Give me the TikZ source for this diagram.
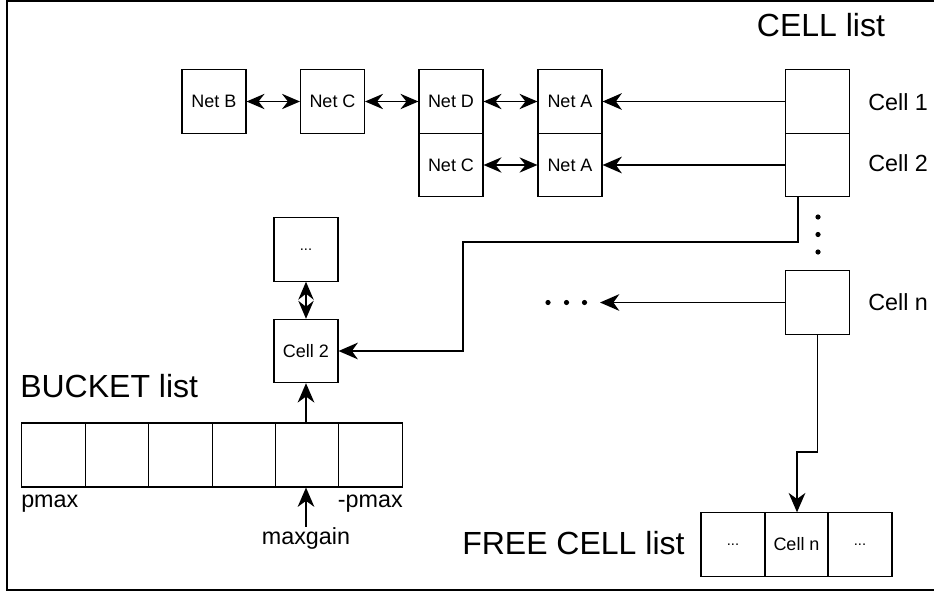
\documentclass[tikz,border=0pt]{standalone}
\usepackage{fontspec}
\setmainfont{Liberation Sans}
\usetikzlibrary{arrows.meta,calc}
\begin{document}
\begin{tikzpicture}[x=0.75pt,y=-0.75pt,
  box/.style={draw,line width=0.8pt,minimum width=48pt,minimum height=47.5pt,inner sep=0pt,font=\fontsize{13.5}{16}\selectfont},
  smallbox/.style={box,font=\fontsize{13.5}{16}\selectfont},
  arr/.style={line width=1.2pt,-{Stealth[length=14.5pt,width=12.5pt,inset=4.5pt]}},
  darr/.style={line width=1.2pt,{Stealth[length=13.5pt,width=11.5pt,inset=4.5pt]}-{Stealth[length=13.5pt,width=11.5pt,inset=4.5pt]}},
  big/.style={inner sep=0pt,font=\fontsize{24}{28}\selectfont},
  mid/.style={inner sep=0pt,font=\fontsize{17.5}{20}\selectfont},
  dotsfont/.style={font=\fontsize{11}{13}\selectfont}
]
\useasboundingbox (0,0) rectangle (934,592);
\draw[line width=1.3pt] (934,1) -- (7,1) -- (7,590) -- (934,590);

\node[box] (netB) at (214,101.5) {Net B};
\node[box] (netC) at (332.5,101.5) {Net C};
\node[box] (netD) at (451,101.5) {Net D};
\node[box] (netC2) at (451,165) {Net C};
\node[box] (netA1) at (570,101.5) {Net A};
\node[box] (netA2) at (570,165) {Net A};

\node[box] (cell1) at (817.5,101.5) {};
\node[box] (cell2) at (817.5,165) {};
\node[box] (celln) at (817.5,302.5) {};
\node[big,anchor=base] (celllist) at (821,37) {CELL list};
\node[mid,anchor=base west] (l1) at (868,110) {Cell 1};
\node[mid,anchor=base west] (l2) at (868,171) {Cell 2};
\node[mid,anchor=base west] (ln) at (868,310) {Cell n};

\draw[darr] (netB.east) -- (netC.west);
\draw[darr] (netC.east) -- (netD.west);
\draw[darr] (netD.east) -- (netA1.west);
\draw[darr] (netC2.east) -- (netA2.west);
\draw[arr] (cell1.west) -- (netA1.east);
\draw[arr] (cell2.west) -- (netA2.east);

\foreach \yy in {217,234.5,252} \fill (818,\yy) circle (2.6);
\coordinate (hdend) at (600,302.5);
\foreach \xx in {548,566.5,584.5} \fill (\xx,302.5) circle (2.6);
\draw[arr] (celln.west) -- (hdend);

\node[box,dotsfont] (dbox) at (306,249.5) {...};
\node[smallbox] (bcell) at (306,351) {Cell 2};
\draw[darr] (dbox.south) -- (bcell.north);
\draw[arr] (cell2.south -| 798,0) -- (798,242) -- (463,242) -- (463,351) -- (bcell.east);

\node[big,anchor=base west] (bucketlbl) at (20,397) {BUCKET list};
\foreach \i/\xx in {1/53.5,2/117,3/180.5,4/244,5/307,6/370.5}
  \node[box,minimum width=47.5pt,minimum height=48pt] (b\i) at (\xx,455) {};
\node[mid,anchor=base west] (pmax) at (21,507) {pmax};
\node[mid,anchor=base east] (npmax) at (403,507) {-pmax};
\node[mid,anchor=base] (maxgain) at (306,544) {maxgain};
\draw[arr] (maxgain.north) -- (b5.south -| maxgain.north);
\draw[arr] (b5.north -| bcell.south) -- (bcell.south);

\node[big,anchor=base west] (freelbl) at (462,554) {FREE CELL list};
\node[box,dotsfont] (f1) at (733,544.5) {...};
\node[smallbox] (f2) at (796.5,544.5) {Cell n};
\node[box,dotsfont] (f3) at (860,544.5) {...};
\draw[arr] (celln.south) -- (817.5,452) -- (797,452) -- (f2.north -| 797,0);
\end{tikzpicture}
\end{document}
